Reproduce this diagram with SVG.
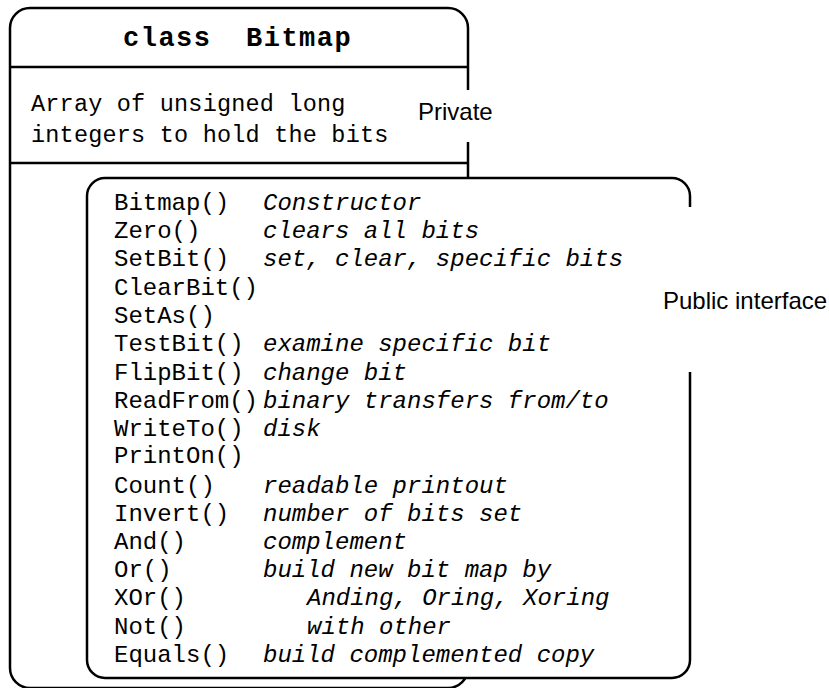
<svg xmlns="http://www.w3.org/2000/svg" width="829" height="688" viewBox="0 0 829 688">
<style>
.ln{fill:none;stroke:#000;stroke-width:2.5}
.bg{fill:#fff;stroke:none}
.mono{font-family:"Liberation Mono","Courier New",monospace;font-size:24px;letter-spacing:0px;fill:#000}
.it{font-style:italic}
.pv{font-family:"Liberation Mono","Courier New",monospace;font-size:23.5px;letter-spacing:0.2px;fill:#000}
.ttl{font-family:"Liberation Mono","Courier New",monospace;font-size:27px;font-weight:bold;letter-spacing:1.5px;fill:#000}
.lbl{font-family:"Liberation Sans",Arial,sans-serif;font-size:24px;fill:#000}
</style>
<rect width="829" height="688" fill="#fff"/>
<g id="class-box">
<rect class="bg" x="10" y="8" width="458" height="680" rx="20"/>
<path class="ln" d="M468 142 L468 668 A20 20 0 0 1 448 688 L30 688 A20 20 0 0 1 10 668 L10 28 A20 20 0 0 1 30 8 L448 8 A20 20 0 0 1 468 28 L468 90"/>
<line class="ln" x1="10" y1="67" x2="468" y2="67"/>
<line class="ln" x1="10" y1="163" x2="468" y2="163"/>
<text class="ttl" x="123" y="46">class</text>
<text class="ttl" x="246" y="46">Bitmap</text>
<text class="pv" x="31" y="111">Array of unsigned long</text>
<text class="pv" x="31" y="142">integers to hold the bits</text>
</g>
<g id="private-label">
<text class="lbl" x="418" y="120">Private</text>
</g>
<g id="public-box">
<rect class="bg" x="87" y="178" width="603" height="500" rx="18"/>
<path class="ln" d="M690 207 L690 196 A18 18 0 0 0 672 178 L105 178 A18 18 0 0 0 87 196 L87 660 A18 18 0 0 0 105 678 L672 678 A18 18 0 0 0 690 660 L690 372"/>
<g class="mono">
<text x="114" y="210">Bitmap()</text>
<text x="114" y="238">Zero()</text>
<text x="114" y="266">SetBit()</text>
<text x="114" y="295">ClearBit()</text>
<text x="114" y="323">SetAs()</text>
<text x="114" y="351">TestBit()</text>
<text x="114" y="380">FlipBit()</text>
<text x="114" y="408">ReadFrom()</text>
<text x="114" y="436">WriteTo()</text>
<text x="114" y="463">PrintOn()</text>
<text x="114" y="493">Count()</text>
<text x="114" y="521">Invert()</text>
<text x="114" y="549">And()</text>
<text x="114" y="577">Or()</text>
<text x="114" y="605">XOr()</text>
<text x="114" y="634">Not()</text>
<text x="114" y="662">Equals()</text>
</g>
<g class="mono it">
<text x="263" y="210">Constructor</text>
<text x="263" y="238">clears all bits</text>
<text x="263" y="266">set, clear, specific bits</text>
<text x="263" y="351">examine specific bit</text>
<text x="263" y="380">change bit</text>
<text x="263" y="408">binary transfers from/to</text>
<text x="263" y="436">disk</text>
<text x="263" y="493">readable printout</text>
<text x="263" y="521">number of bits set</text>
<text x="263" y="549">complement</text>
<text x="263" y="577">build new bit map by</text>
<text x="307" y="605">Anding, Oring, Xoring</text>
<text x="307" y="634">with other</text>
<text x="263" y="662">build complemented copy</text>
</g>
</g>
<g id="public-label">
<text class="lbl" x="663" y="309">Public interface</text>
</g>
</svg>
